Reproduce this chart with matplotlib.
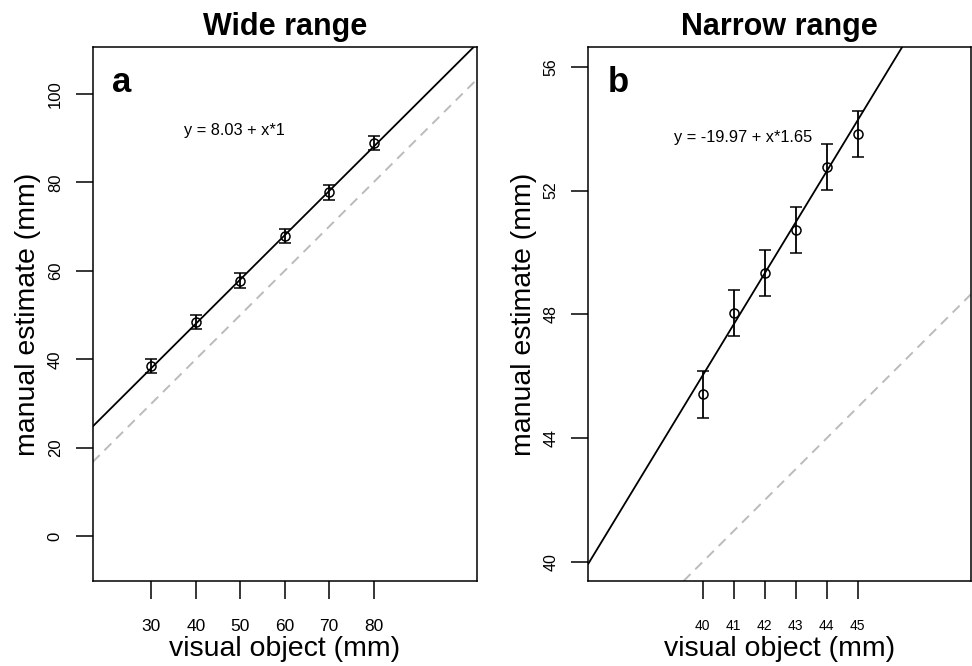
import matplotlib
matplotlib.use("Agg")
import matplotlib.pyplot as plt
import numpy as np

plt.rcParams['font.family'] = ['Liberation Sans', 'DejaVu Sans']

# wide range data
wide_x = [30, 40, 50, 60, 70, 80]
wide_y = [38.4, 48.5, 57.8, 67.9, 77.7, 88.9]
wide_err = [1.6, 1.6, 1.6, 1.6, 1.6, 1.6]
wide_fit = (8.03, 1.0)

# narrow range data
narrow_x = [40, 41, 42, 43, 44, 45]
narrow_y = [45.41, 48.05, 49.34, 50.72, 52.75, 53.83]
narrow_err = [0.75, 0.74, 0.74, 0.74, 0.74, 0.74]
narrow_fit = (-19.97, 1.65)

fig = plt.figure(figsize=(9.72, 6.66), dpi=100)
ax1 = fig.add_axes([0.0954, 0.1276, 0.395, 0.8014])
ax2 = fig.add_axes([0.6053, 0.1276, 0.3937, 0.8014])


def panel(ax, x, y, err, fit, title, letter, eq_pos, xlim, ylim, xticks, yticks, xfs, yfs, ylab_x):
    ax.axline((0, 0), slope=1, color='#bbbbbb', lw=1.4, ls=(0, (5, 3.5)))
    ax.axline((0, fit[0]), slope=fit[1], color='black', lw=1.3)
    ax.errorbar(x, y, yerr=err, fmt='o', mfc='none', mec='black', ms=6.5, mew=1.1,
                ecolor='black', elinewidth=1.3, capsize=4, capthick=1.3)
    ax.set_xlim(xlim)
    ax.set_ylim(ylim)
    ax.set_xticks(xticks)
    ax.set_yticks(yticks)
    ax.tick_params(axis='x', length=13, width=1.1, pad=14, labelsize=xfs)
    ax.tick_params(axis='y', length=12.5, width=1.1, pad=9, labelsize=yfs)
    for lab in ax.get_yticklabels():
        lab.set_rotation(90)
        lab.set_va('center')
    for sp in ax.spines.values():
        sp.set_linewidth(1.1)
    ax.set_title(title, fontsize=22, fontweight='bold', pad=9)
    ax.text(0.05, 0.934, letter, transform=ax.transAxes, fontsize=25, fontweight='bold',
            ha='left', va='center')
    eq = 'y = %.2f + x*%g' % (fit[0], fit[1])
    ax.text(eq_pos[0], eq_pos[1], eq, fontsize=11.8, ha='center', va='center')
    ax.set_xlabel('visual object (mm)', fontsize=20.5)
    ax.set_ylabel('manual estimate (mm)', fontsize=20.5)
    ax.xaxis.set_label_coords(0.5, -0.103)
    ax.yaxis.set_label_coords(ylab_x, 0.5)


panel(ax1, wide_x, wide_y, wide_err, wide_fit, 'Wide range', 'a', (48.6, 91.8),
      (16.8, 103.2), (-10.1, 110.5), [30, 40, 50, 60, 70, 80], [0, 20, 40, 60, 80, 100],
      12.5, 12, -0.135)
panel(ax2, narrow_x, narrow_y, narrow_err, narrow_fit, 'Narrow range', 'b', (41.29, 53.72),
      (36.31, 48.65), (39.38, 56.63), [40, 41, 42, 43, 44, 45], [40, 44, 48, 52, 56],
      10, 11.5, -0.135)

fig.savefig('out.png', dpi=100)
